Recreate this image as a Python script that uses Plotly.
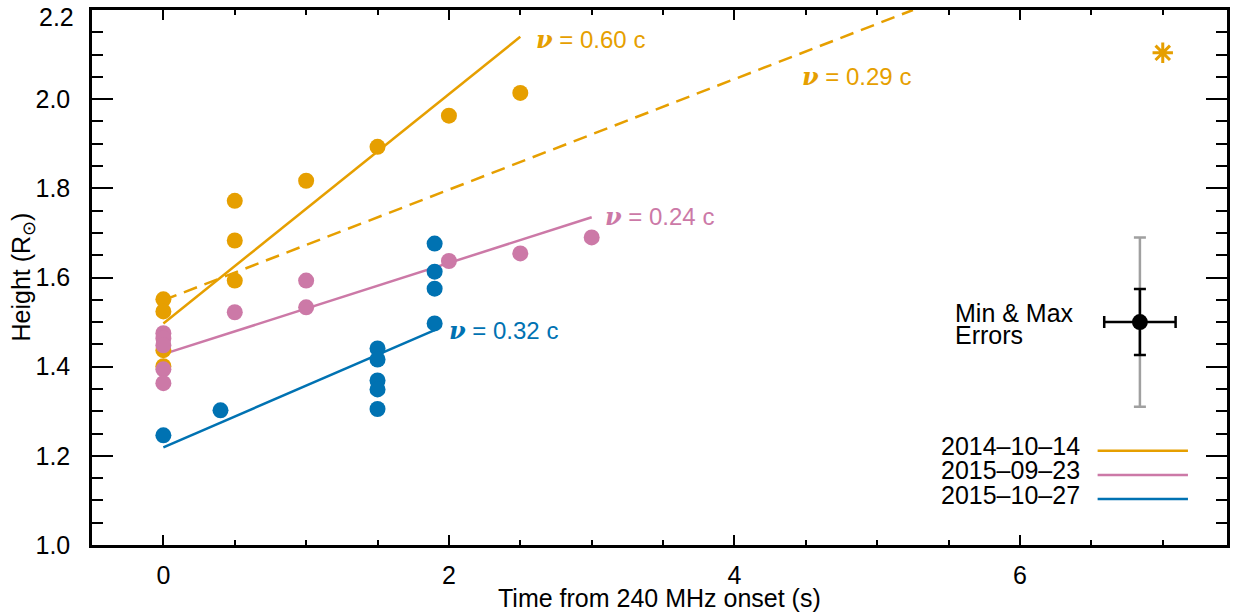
import plotly.graph_objects as go

# ---------------- data ----------------
ORANGE = "#E69F00"
PINK = "#CC79A7"
BLUE = "#0072B2"

t_1014 = [0, 0, 0, 0, 0.5, 0.5, 0.5, 1.0, 1.5, 2.0, 2.5]
h_1014 = [1.551, 1.524, 1.437, 1.401, 1.772, 1.683, 1.593, 1.817, 1.893, 1.963, 2.014]

t_0923 = [0, 0, 0, 0, 0, 0.5, 1.0, 1.0, 2.0, 2.5, 3.0]
h_0923 = [1.475, 1.463, 1.448, 1.394, 1.363, 1.522, 1.593, 1.533, 1.637, 1.654, 1.690]

t_1027 = [0, 0.4, 1.5, 1.5, 1.5, 1.5, 1.5, 1.9, 1.9, 1.9, 1.9]
h_1027 = [1.246, 1.302, 1.441, 1.416, 1.369, 1.349, 1.305, 1.676, 1.613, 1.575, 1.497]

# linear fits (time range, height at start / end)
fit_1014_t = [0, 2.5]
fit_1014_h = [1.497, 2.140]
fit_1014b_t = [0, 5.25]
fit_1014b_h = [1.549, 2.200]
fit_0923_t = [0, 3.0]
fit_0923_h = [1.428, 1.735]
fit_1027_t = [0, 1.9]
fit_1027_h = [1.219, 1.482]

outlier_t = [7.0]
outlier_h = [2.104]

err_t = [6.84]
err_h = [1.50]
err_x_half = 0.25
err_min_half = 0.074
err_max_half = 0.19

labels = ["2014\u201310\u201314", "2015\u201309\u201323", "2015\u201310\u201327"]
colors = [ORANGE, PINK, BLUE]

y_ticks = [1.0, 1.2, 1.4, 1.6, 1.8, 2.0, 2.2]
y_ticktext = ["1.0", "1.2", "1.4", "1.6", "1.8", "2.0", " "]
x_ticks = [0, 2, 4, 6]

x_title = "Time from 240 MHz onset (s)"
y_title = "Height (R<sub>\u2299</sub>)"

FONT = "Liberation Sans, Arial, Helvetica, sans-serif"
FS = 25

fig = go.Figure()

# fit lines
for tt, hh, c, d in [(fit_1014_t, fit_1014_h, ORANGE, "solid"),
                     (fit_1014b_t, fit_1014b_h, ORANGE, "14px,8px"),
                     (fit_0923_t, fit_0923_h, PINK, "solid"),
                     (fit_1027_t, fit_1027_h, BLUE, "solid")]:
    fig.add_trace(go.Scatter(x=tt, y=hh, mode="lines",
                             line=dict(color=c, width=2.5, dash=d),
                             showlegend=False, hoverinfo="skip"))

# data points
for tt, hh, c in [(t_1014, h_1014, ORANGE), (t_0923, h_0923, PINK), (t_1027, h_1027, BLUE)]:
    fig.add_trace(go.Scatter(x=tt, y=hh, mode="markers",
                             marker=dict(color=c, size=16, line=dict(width=0)),
                             showlegend=False))

# outlier asterisk
fig.add_trace(go.Scatter(x=outlier_t, y=outlier_h, mode="markers",
                         marker=dict(symbol="asterisk-open", size=17, color=ORANGE,
                                     line=dict(color=ORANGE, width=3)),
                         showlegend=False))

# error bar indicator: max error (grey)
fig.add_trace(go.Scatter(x=err_t, y=err_h, mode="markers",
                         marker=dict(color="rgba(0,0,0,0)", size=1),
                         error_y=dict(type="constant", value=err_max_half,
                                      color="#A0A0A0", thickness=2.5, width=6),
                         showlegend=False))
# min error (black)
fig.add_trace(go.Scatter(x=err_t, y=err_h, mode="markers",
                         marker=dict(color="black", size=16),
                         error_y=dict(type="constant", value=err_min_half,
                                      color="black", thickness=2.5, width=6),
                         error_x=dict(type="constant", value=err_x_half,
                                      color="black", thickness=2.5, width=6),
                         showlegend=False))

def vlabel(txt):
    return ('<span style="font-family:\'DejaVu Serif\', serif;font-style:italic;font-weight:bold">\u03bd</span>'
            + " = " + txt)

for x, y, txt, c in [(2.594, 2.133, "0.60 c", ORANGE),
                     (4.46, 2.050, "0.29 c", ORANGE),
                     (3.08, 1.736, "0.24 c", PINK),
                     (1.99, 1.482, "0.32 c", BLUE)]:
    fig.add_annotation(x=x, y=y, text=vlabel(txt), showarrow=False,
                       xanchor="left", yanchor="middle",
                       font=dict(color=c, size=24, family=FONT))

for y, txt in [(1.520, "Min & Max"), (1.471, "Errors")]:
    fig.add_annotation(x=5.53, y=y, text=txt, showarrow=False,
                       xanchor="left", yanchor="middle",
                       font=dict(color="black", size=FS, family=FONT))

# top y tick label, nudged down so that it stays inside the page (as in the reference)
fig.add_annotation(xref="paper", yref="y", x=0, y=y_ticks[-1], text="2.2",
                   showarrow=False, xanchor="right", yanchor="middle",
                   xshift=-16, yshift=-7,
                   font=dict(color="black", size=FS, family=FONT))

# axis titles
fig.add_annotation(xref="paper", yref="paper", x=0.5, y=0, text=x_title,
                   showarrow=False, xanchor="center", yanchor="middle", yshift=-53,
                   font=dict(color="black", size=FS, family=FONT))
fig.add_annotation(xref="paper", yref="paper", x=0, y=0.5, text=y_title,
                   showarrow=False, xanchor="center", yanchor="middle", xshift=-70,
                   textangle=-90,
                   font=dict(color="black", size=FS, family=FONT))

# legend (text on the left, line on the right)
leg_text_y = [0.185, 0.140, 0.093]
leg_line_y = [0.176, 0.131, 0.086]
for lab, c, ty, ly in zip(labels, colors, leg_text_y, leg_line_y):
    fig.add_annotation(xref="paper", yref="paper", x=0.872, y=ty, text=lab,
                       showarrow=False, xanchor="right", yanchor="middle",
                       font=dict(color="black", size=FS, family=FONT))
    fig.add_shape(type="line", xref="paper", yref="paper",
                  x0=0.886, x1=0.9656, y0=ly, y1=ly,
                  line=dict(color=c, width=2.5))

axis_common = dict(showline=True, linecolor="black", linewidth=2.5, mirror="allticks",
                   ticks="inside", tickcolor="black", showgrid=False, zeroline=False,
                   automargin=False, ticklabeloverflow="allow",
                   tickfont=dict(size=FS, family=FONT, color="black"))

fig.update_xaxes(range=[-0.5, 7.45], tickvals=x_ticks, ticklen=10, tickwidth=2,
                 ticklabelstandoff=6,
                 minor=dict(dtick=0.5, tick0=0, ticks="inside", ticklen=5, tickwidth=2,
                            tickcolor="black", showgrid=False),
                 **axis_common)
fig.update_yaxes(range=[1.0, 2.2], tickvals=y_ticks, ticktext=y_ticktext,
                 ticklen=21, tickwidth=2,
                 ticklabelstandoff=14,
                 minor=dict(dtick=0.05, tick0=1.0, ticks="inside", ticklen=11, tickwidth=2,
                            tickcolor="black", showgrid=False),
                 **axis_common)

fig.update_layout(width=1240, height=616,
                  margin=dict(l=92, r=13, t=10, b=71),
                  plot_bgcolor="white", paper_bgcolor="white",
                  font=dict(family=FONT, color="black"),
                  showlegend=False)

fig.write_html("out.html", config={"displayModeBar": False},
               post_script="document.body.style.margin='0';document.body.style.overflow='hidden';")
